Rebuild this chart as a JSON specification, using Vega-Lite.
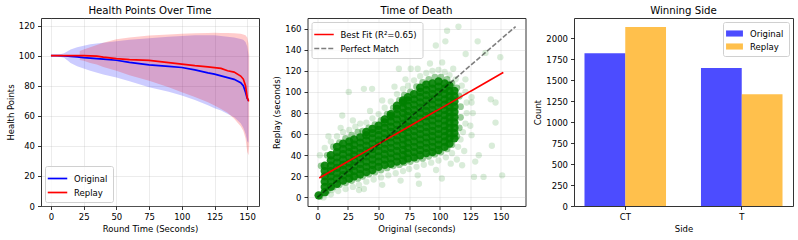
{
  "$schema": "https://vega.github.io/schema/vega-lite/v6.json",
  "padding": {"left": 5, "top": 5, "right": 4, "bottom": 4},
  "spacing": 48.5,
  "bounds": "flush",
  "resolve": {
    "scale": {"color": "independent", "opacity": "independent", "strokeDash": "independent", "x": "independent", "y": "independent"},
    "legend": {"color": "independent", "opacity": "independent", "strokeDash": "independent"}
  },
  "config": {
    "font": "DejaVu Sans",
    "view": {"stroke": "#333333", "strokeWidth": 1},
    "style": {"group-title": {"fontSize": 10.2, "fontWeight": "normal", "color": "#000000"}},
    "axis": {
      "domain": false,
      "tickColor": "#000000",
      "tickSize": 3.5,
      "tickWidth": 0.8,
      "labelFontSize": 8.5,
      "titleFontSize": 8.5,
      "titleFontWeight": "normal",
      "labelColor": "#000000",
      "titleColor": "#000000",
      "labelPadding": 3,
      "titlePadding": 3,
      "labelFlush": false,
      "labelOverlap": false,
      "grid": true,
      "gridColor": "#b0b0b0",
      "gridOpacity": 0.3,
      "gridWidth": 0.8
    },
    "title": {"fontSize": 10.2, "fontWeight": "normal", "color": "#000000", "anchor": "middle", "offset": 2},
    "legend": {
      "labelFontSize": 8.5,
      "labelColor": "#000000",
      "strokeColor": "#d0d0d0",
      "fillColor": "rgba(255,255,255,0.8)",
      "padding": 5,
      "cornerRadius": 2,
      "rowPadding": 2,
      "labelOffset": 9,
      "offset": 4
    }
  },
  "datasets": {
    "hp": [
      {"t": 0, "s": "Original", "m": 100, "lo": 100, "hi": 100},
      {"t": 5, "s": "Original", "m": 100, "lo": 99.6, "hi": 100.4},
      {"t": 10, "s": "Original", "m": 99.8, "lo": 98.5, "hi": 101.5},
      {"t": 13, "s": "Original", "m": 99.7, "lo": 96.5, "hi": 103},
      {"t": 15, "s": "Original", "m": 99.5, "lo": 95, "hi": 104},
      {"t": 20, "s": "Original", "m": 99.2, "lo": 93, "hi": 105.5},
      {"t": 25, "s": "Original", "m": 98.7, "lo": 91.5, "hi": 106.5},
      {"t": 30, "s": "Original", "m": 98.3, "lo": 90, "hi": 107.5},
      {"t": 40, "s": "Original", "m": 97.6, "lo": 87.5, "hi": 108.5},
      {"t": 50, "s": "Original", "m": 96.9, "lo": 85.5, "hi": 109.5},
      {"t": 60, "s": "Original", "m": 95.5, "lo": 83, "hi": 110.5},
      {"t": 75, "s": "Original", "m": 93.8, "lo": 79, "hi": 111.5},
      {"t": 90, "s": "Original", "m": 92.8, "lo": 76, "hi": 112.5},
      {"t": 100, "s": "Original", "m": 92.1, "lo": 73.5, "hi": 113},
      {"t": 110, "s": "Original", "m": 90.5, "lo": 70.5, "hi": 113.5},
      {"t": 120, "s": "Original", "m": 88.5, "lo": 67, "hi": 113.5},
      {"t": 125, "s": "Original", "m": 87.7, "lo": 65, "hi": 113.5},
      {"t": 130, "s": "Original", "m": 86.5, "lo": 63.5, "hi": 113},
      {"t": 140, "s": "Original", "m": 84.2, "lo": 59, "hi": 112},
      {"t": 145, "s": "Original", "m": 82, "lo": 55, "hi": 111},
      {"t": 147, "s": "Original", "m": 80, "lo": 52, "hi": 110.5},
      {"t": 148.7, "s": "Original", "m": 75.6, "lo": 48, "hi": 109},
      {"t": 150, "s": "Original", "m": 71.5, "lo": 43, "hi": 106},
      {"t": 151, "s": "Original", "m": 70, "lo": 42, "hi": 100},
      {"t": 0, "s": "Replay", "m": 100, "lo": null, "hi": null},
      {"t": 10, "s": "Replay", "m": 100, "lo": null, "hi": null},
      {"t": 20, "s": "Replay", "m": 100, "lo": null, "hi": null},
      {"t": 22, "s": "Replay", "m": 100, "lo": 97, "hi": 103},
      {"t": 25, "s": "Replay", "m": 100, "lo": 96.5, "hi": 104},
      {"t": 30, "s": "Replay", "m": 99.8, "lo": 95, "hi": 105.5},
      {"t": 35, "s": "Replay", "m": 99.6, "lo": 94, "hi": 107},
      {"t": 40, "s": "Replay", "m": 99, "lo": 92.5, "hi": 108.5},
      {"t": 50, "s": "Replay", "m": 98, "lo": 90, "hi": 110.8},
      {"t": 60, "s": "Replay", "m": 97.3, "lo": 87, "hi": 112},
      {"t": 75, "s": "Replay", "m": 96.8, "lo": 83.3, "hi": 113.4},
      {"t": 90, "s": "Replay", "m": 95.3, "lo": 79, "hi": 114},
      {"t": 100, "s": "Replay", "m": 94.3, "lo": 75.6, "hi": 114.5},
      {"t": 110, "s": "Replay", "m": 93.3, "lo": 72.5, "hi": 114.8},
      {"t": 120, "s": "Replay", "m": 92.5, "lo": 69, "hi": 115},
      {"t": 125, "s": "Replay", "m": 92, "lo": 66.8, "hi": 115.2},
      {"t": 130, "s": "Replay", "m": 91.5, "lo": 64.5, "hi": 115},
      {"t": 135, "s": "Replay", "m": 89.9, "lo": 62, "hi": 115},
      {"t": 140, "s": "Replay", "m": 89, "lo": 58, "hi": 114.8},
      {"t": 145, "s": "Replay", "m": 86.4, "lo": 53, "hi": 114.5},
      {"t": 147, "s": "Replay", "m": 84.4, "lo": 50, "hi": 114},
      {"t": 148.7, "s": "Replay", "m": 80, "lo": 45, "hi": 113.5},
      {"t": 150, "s": "Replay", "m": 72, "lo": 36, "hi": 112},
      {"t": 151, "s": "Replay", "m": 70, "lo": 33.8, "hi": 108},
      {"t": 151.5, "s": "Replay", "m": 70, "lo": 40, "hi": 100}
    ],
    "core": [
      {"x":1,"y":2},
      {"x":6,"y":5},{"x":6,"y":10},{"x":6,"y":15},{"x":6,"y":20},{"x":6,"y":25},{"x":6,"y":30},
      {"x":11,"y":10},{"x":11,"y":15},{"x":11,"y":20},{"x":11,"y":25},{"x":11,"y":30},{"x":11,"y":35},{"x":11,"y":40},
      {"x":16,"y":13},{"x":16,"y":18},{"x":16,"y":23},{"x":16,"y":28},{"x":16,"y":33},{"x":16,"y":38},{"x":16,"y":43},{"x":16,"y":48},
      {"x":21,"y":16},{"x":21,"y":21},{"x":21,"y":26},{"x":21,"y":31},{"x":21,"y":36},{"x":21,"y":41},{"x":21,"y":46},{"x":21,"y":51},
      {"x":26,"y":18},{"x":26,"y":23},{"x":26,"y":28},{"x":26,"y":33},{"x":26,"y":38},{"x":26,"y":43},{"x":26,"y":48},{"x":26,"y":53},
      {"x":30,"y":20},{"x":30,"y":25},{"x":30,"y":30},{"x":30,"y":35},{"x":30,"y":40},{"x":30,"y":45},{"x":30,"y":50},{"x":30,"y":55},
      {"x":35,"y":22},{"x":35,"y":27},{"x":35,"y":32},{"x":35,"y":37},{"x":35,"y":42},{"x":35,"y":47},{"x":35,"y":52},{"x":35,"y":57},
      {"x":40,"y":24},{"x":40,"y":29},{"x":40,"y":34},{"x":40,"y":39},{"x":40,"y":44},{"x":40,"y":49},{"x":40,"y":54},{"x":40,"y":59},{"x":40,"y":62},
      {"x":45,"y":26},{"x":45,"y":31},{"x":45,"y":36},{"x":45,"y":41},{"x":45,"y":46},{"x":45,"y":51},{"x":45,"y":56},{"x":45,"y":61},{"x":45,"y":65},
      {"x":50,"y":29},{"x":50,"y":34},{"x":50,"y":39},{"x":50,"y":44},{"x":50,"y":49},{"x":50,"y":54},{"x":50,"y":59},{"x":50,"y":64},{"x":50,"y":68},
      {"x":55,"y":31},{"x":55,"y":36},{"x":55,"y":41},{"x":55,"y":46},{"x":55,"y":51},{"x":55,"y":56},{"x":55,"y":61},{"x":55,"y":66},{"x":55,"y":71},{"x":55,"y":74},
      {"x":60,"y":32},{"x":60,"y":37},{"x":60,"y":42},{"x":60,"y":47},{"x":60,"y":52},{"x":60,"y":57},{"x":60,"y":62},{"x":60,"y":67},{"x":60,"y":72},{"x":60,"y":77},{"x":60,"y":79},
      {"x":65,"y":34},{"x":65,"y":39},{"x":65,"y":44},{"x":65,"y":49},{"x":65,"y":54},{"x":65,"y":59},{"x":65,"y":64},{"x":65,"y":69},{"x":65,"y":74},{"x":65,"y":79},{"x":65,"y":84},{"x":65,"y":87},
      {"x":70,"y":35},{"x":70,"y":40},{"x":70,"y":45},{"x":70,"y":50},{"x":70,"y":55},{"x":70,"y":60},{"x":70,"y":65},{"x":70,"y":70},{"x":70,"y":75},{"x":70,"y":80},{"x":70,"y":85},{"x":70,"y":90},{"x":70,"y":92},
      {"x":74,"y":37},{"x":74,"y":42},{"x":74,"y":47},{"x":74,"y":52},{"x":74,"y":57},{"x":74,"y":62},{"x":74,"y":67},{"x":74,"y":72},{"x":74,"y":77},{"x":74,"y":82},{"x":74,"y":87},{"x":74,"y":92},{"x":74,"y":95},
      {"x":79,"y":38},{"x":79,"y":43},{"x":79,"y":48},{"x":79,"y":53},{"x":79,"y":58},{"x":79,"y":63},{"x":79,"y":68},{"x":79,"y":73},{"x":79,"y":78},{"x":79,"y":83},{"x":79,"y":88},{"x":79,"y":93},{"x":79,"y":98},
      {"x":84,"y":40},{"x":84,"y":45},{"x":84,"y":50},{"x":84,"y":55},{"x":84,"y":60},{"x":84,"y":65},{"x":84,"y":70},{"x":84,"y":75},{"x":84,"y":80},{"x":84,"y":85},{"x":84,"y":90},{"x":84,"y":95},{"x":84,"y":100},{"x":84,"y":104},
      {"x":89,"y":42},{"x":89,"y":47},{"x":89,"y":52},{"x":89,"y":57},{"x":89,"y":62},{"x":89,"y":67},{"x":89,"y":72},{"x":89,"y":77},{"x":89,"y":82},{"x":89,"y":87},{"x":89,"y":92},{"x":89,"y":97},{"x":89,"y":102},{"x":89,"y":107},
      {"x":94,"y":43},{"x":94,"y":48},{"x":94,"y":53},{"x":94,"y":58},{"x":94,"y":63},{"x":94,"y":68},{"x":94,"y":73},{"x":94,"y":78},{"x":94,"y":83},{"x":94,"y":88},{"x":94,"y":93},{"x":94,"y":98},{"x":94,"y":103},{"x":94,"y":108},
      {"x":99,"y":45},{"x":99,"y":50},{"x":99,"y":55},{"x":99,"y":60},{"x":99,"y":65},{"x":99,"y":70},{"x":99,"y":75},{"x":99,"y":80},{"x":99,"y":85},{"x":99,"y":90},{"x":99,"y":95},{"x":99,"y":100},{"x":99,"y":105},{"x":99,"y":110},
      {"x":104,"y":48},{"x":104,"y":53},{"x":104,"y":58},{"x":104,"y":63},{"x":104,"y":68},{"x":104,"y":73},{"x":104,"y":78},{"x":104,"y":83},{"x":104,"y":88},{"x":104,"y":93},{"x":104,"y":98},{"x":104,"y":103},{"x":104,"y":108},
      {"x":108,"y":51},{"x":108,"y":56},{"x":108,"y":61},{"x":108,"y":66},{"x":108,"y":71},{"x":108,"y":76},{"x":108,"y":81},{"x":108,"y":86},{"x":108,"y":91},{"x":108,"y":96},{"x":108,"y":101},{"x":108,"y":106},
      {"x":112,"y":56},{"x":112,"y":61},{"x":112,"y":66},{"x":112,"y":71},{"x":112,"y":76},{"x":112,"y":81},{"x":112,"y":86},{"x":112,"y":91},{"x":112,"y":96},{"x":112,"y":101}
    ],
    "mid": [
      {"x":3,"y":30},{"x":8,"y":40},{"x":13,"y":48},{"x":18,"y":52},{"x":23,"y":56},{"x":28,"y":59},{"x":33,"y":62},{"x":37,"y":63},{"x":42,"y":66},{"x":47,"y":69},
      {"x":52,"y":73},{"x":57,"y":79},{"x":62,"y":85},{"x":67,"y":92},{"x":71,"y":97},{"x":76,"y":100},{"x":81,"y":105},{"x":86,"y":109},{"x":91,"y":112},{"x":96,"y":114},
      {"x":101,"y":114},{"x":106,"y":112},{"x":110,"y":108},{"x":114,"y":104},
      {"x":116,"y":96},{"x":117,"y":86},{"x":117,"y":76},{"x":116,"y":66},{"x":114,"y":58},
      {"x":2,"y":1},{"x":8,"y":6},{"x":13,"y":10},{"x":18,"y":12},{"x":23,"y":14},{"x":28,"y":16},{"x":33,"y":18},{"x":37,"y":20},{"x":42,"y":22},{"x":47,"y":24},
      {"x":52,"y":26},{"x":57,"y":28},{"x":62,"y":30},{"x":67,"y":31},{"x":71,"y":33},{"x":76,"y":34},{"x":81,"y":36},{"x":86,"y":37},{"x":91,"y":39},{"x":96,"y":41},
      {"x":101,"y":43},{"x":106,"y":46},{"x":110,"y":50}
    ],
    "sparse": [
      {"x":2,"y":40},{"x":6,"y":47},{"x":11,"y":53},{"x":16,"y":58},{"x":21,"y":62},{"x":26,"y":64},{"x":31,"y":67},{"x":35,"y":70},{"x":40,"y":71},{"x":45,"y":75},
      {"x":50,"y":79},{"x":55,"y":85},{"x":60,"y":91},{"x":65,"y":98},{"x":70,"y":103},{"x":74,"y":106},{"x":79,"y":111},{"x":84,"y":115},{"x":89,"y":118},{"x":94,"y":120},
      {"x":99,"y":121},{"x":104,"y":119},{"x":108,"y":116},{"x":113,"y":112},{"x":118,"y":106},
      {"x":9,"y":58},{"x":19,"y":66},{"x":29,"y":73},{"x":43,"y":82},{"x":53,"y":92},{"x":63,"y":105},{"x":72,"y":112},{"x":82,"y":122},{"x":92,"y":127},{"x":102,"y":128},
      {"x":111,"y":122},{"x":121,"y":112},
      {"x":121,"y":100},{"x":122,"y":90},{"x":122,"y":80},{"x":121,"y":70},{"x":119,"y":62},{"x":117,"y":55},{"x":126,"y":95},{"x":127,"y":80},{"x":125,"y":68},
      {"x":5,"y":0},{"x":11,"y":3},{"x":17,"y":6},{"x":23,"y":8},{"x":29,"y":10},{"x":34,"y":12},{"x":40,"y":15},{"x":46,"y":17},{"x":52,"y":19},{"x":58,"y":21},
      {"x":64,"y":23},{"x":70,"y":25},{"x":75,"y":27},{"x":81,"y":29},{"x":87,"y":31},{"x":93,"y":33},{"x":99,"y":35},{"x":105,"y":38},{"x":110,"y":42},{"x":115,"y":48},
      {"x":38,"y":8},{"x":53,"y":12},{"x":68,"y":16},{"x":82,"y":21},{"x":97,"y":26},{"x":109,"y":32},{"x":120,"y":44},{"x":114,"y":36},
      {"x":115.3,"y":162},{"x":106,"y":158},{"x":104.6,"y":148},{"x":96.8,"y":144},{"x":131,"y":148},{"x":121.2,"y":136},{"x":137.4,"y":137},{"x":149.5,"y":133},{"x":51.6,"y":139},{"x":44.7,"y":103},
      {"x":38,"y":103},{"x":145.6,"y":90},{"x":141.7,"y":93},{"x":126,"y":90},{"x":145.6,"y":71},{"x":142.6,"y":49},{"x":131.9,"y":40},{"x":129,"y":34},{"x":151,"y":21},{"x":135.8,"y":19.5},
      {"x":128,"y":19.5},{"x":118.3,"y":30.5},{"x":110.2,"y":59},{"x":126,"y":59},{"x":83,"y":13},{"x":101.7,"y":18},{"x":34,"y":7},{"x":12,"y":7},{"x":25.6,"y":100},{"x":20.3,"y":77.7},
      {"x":66.6,"y":122},{"x":76.3,"y":122}
    ],
    "fits": [
      {"x": 1.5, "y": 18.5, "k": "Best Fit (R²=0.65)"},
      {"x": 152, "y": 118.5, "k": "Best Fit (R²=0.65)"},
      {"x": 0, "y": 0, "k": "Perfect Match"},
      {"x": 162, "y": 162, "k": "Perfect Match"}
    ],
    "win": [
      {"side": "CT", "src": "Original", "count": 1821},
      {"side": "CT", "src": "Replay", "count": 2135},
      {"side": "T", "src": "Original", "count": 1647},
      {"side": "T", "src": "Replay", "count": 1333}
    ]
  },
  "hconcat": [
    {
      "width": 218,
      "height": 188,
      "title": "Health Points Over Time",
      "data": {"name": "hp"},
      "encoding": {
        "x": {"field": "t", "type": "quantitative", "scale": {"domain": [-7.6, 159], "nice": false, "zero": false}, "axis": {"values": [0, 25, 50, 75, 100, 125, 150]}, "title": "Round Time (Seconds)"},
        "color": {"field": "s", "type": "nominal", "scale": {"domain": ["Original", "Replay"], "range": ["#0000ff", "#ff0000"]}, "legend": {"title": null, "orient": "bottom-left", "symbolType": "M-1.5,0H1.5", "symbolSize": 169, "symbolStrokeWidth": 1.7, "symbolOpacity": 1, "symbolFillColor": "transparent"}}
      },
      "layer": [
        {
          "mark": {"type": "area", "opacity": 0.2},
          "encoding": {
            "y": {"field": "lo", "type": "quantitative", "scale": {"domain": [0, 125], "nice": false}, "axis": {"values": [0, 20, 40, 60, 80, 100, 120]}, "title": "Health Points"},
            "y2": {"field": "hi"}
          }
        },
        {
          "mark": {"type": "line", "strokeWidth": 1.7},
          "encoding": {
            "y": {"field": "m", "type": "quantitative", "scale": {"domain": [0, 125], "nice": false}, "axis": {"values": [0, 20, 40, 60, 80, 100, 120]}, "title": "Health Points"}
          }
        }
      ]
    },
    {
      "width": 218,
      "height": 188,
      "title": "Time of Death",
      "encoding": {
        "x": {"field": "x", "type": "quantitative", "scale": {"domain": [-8.1, 170.1], "nice": false, "zero": false}, "axis": {"values": [0, 25, 50, 75, 100, 125, 150]}, "title": "Original (seconds)"},
        "y": {"field": "y", "type": "quantitative", "scale": {"domain": [-8.1, 170.1], "nice": false, "zero": false}, "axis": {"values": [0, 20, 40, 60, 80, 100, 120, 140, 160]}, "title": "Replay (seconds)"}
      },
      "layer": [
        {
          "data": {"name": "sparse"},
          "mark": {"type": "circle", "color": "#008000", "opacity": 0.15, "size": 40}
        },
        {
          "data": {"name": "mid"},
          "mark": {"type": "circle", "color": "#008000", "opacity": 0.4, "size": 45}
        },
        {
          "data": {"name": "core"},
          "mark": {"type": "circle", "color": "#008000", "opacity": 0.9, "size": 70}
        },
        {
          "data": {"name": "fits"},
          "mark": {"type": "line", "strokeWidth": 1.6},
          "encoding": {
            "color": {"field": "k", "type": "nominal", "scale": {"domain": ["Best Fit (R²=0.65)", "Perfect Match"], "range": ["#ff0000", "#000000"]}, "legend": {"title": null, "orient": "top-left", "symbolType": "M-1.5,0H1.5", "symbolSize": 169, "symbolStrokeWidth": 1.6}},
            "strokeDash": {"field": "k", "type": "nominal", "scale": {"domain": ["Best Fit (R²=0.65)", "Perfect Match"], "range": [[1, 0], [5, 2]]}, "legend": {"title": null, "orient": "top-left", "symbolType": "M-1.5,0H1.5", "symbolSize": 169, "symbolStrokeWidth": 1.6}},
            "opacity": {"field": "k", "type": "nominal", "scale": {"domain": ["Best Fit (R²=0.65)", "Perfect Match"], "range": [1, 0.5]}, "legend": {"title": null, "orient": "top-left", "symbolType": "M-1.5,0H1.5", "symbolSize": 169, "symbolStrokeWidth": 1.6}}
          }
        }
      ]
    },
    {
      "width": 219,
      "height": 188,
      "title": "Winning Side",
      "data": {"name": "win"},
      "mark": {"type": "bar", "opacity": 0.7},
      "encoding": {
        "x": {"field": "side", "type": "nominal", "scale": {"paddingInner": 0.3, "paddingOuter": 0.09}, "axis": {"labelAngle": 0, "grid": false}, "title": "Side"},
        "xOffset": {"field": "src", "type": "nominal", "scale": {"domain": ["Original", "Replay"], "paddingInner": 0, "paddingOuter": 0}},
        "y": {"field": "count", "type": "quantitative", "scale": {"domain": [0, 2242], "nice": false}, "axis": {"values": [0, 250, 500, 750, 1000, 1250, 1500, 1750, 2000], "format": "d", "grid": false}, "title": "Count"},
        "color": {"field": "src", "type": "nominal", "scale": {"domain": ["Original", "Replay"], "range": ["#0000ff", "#ffa500"]}, "legend": {"title": null, "orient": "top-right", "symbolType": "M-1.3,-0.47H1.3V0.47H-1.3Z", "symbolSize": 169, "symbolOpacity": 0.7, "symbolStrokeWidth": 0}}
      }
    }
  ]
}
